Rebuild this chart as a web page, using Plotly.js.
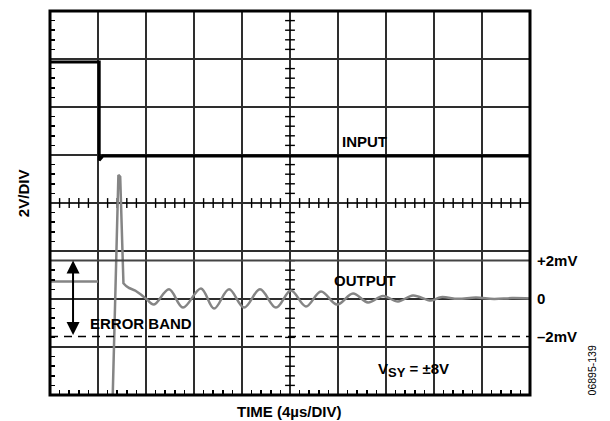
<!DOCTYPE html>
<html>
<head>
<meta charset="utf-8">
<script src="https://cdn.plot.ly/plotly-3.0.1.min.js"></script>
<style>html,body{margin:0;padding:0;background:#fff;}#chart{width:610px;height:421px;}</style>
</head>
<body>
<div id="chart"></div>
<script>
// ---- data (time in µs, input in V, output in mV) ----
var inputTime  = [0, 4.1, 4.1, 4.25, 4.4, 40];
var inputVolts = [5.875, 5.875, 1.78, 1.85, 1.96, 1.96];

// null = trace off-screen / not drawn during the fast edge
var outStepTime = [0, 4.0, 4.05, 5.15, 5.3, 5.45, 5.6, 5.7, 5.85, 5.95, 6.05, 6.12, 6.35, 6.6, 7.1, 7.6, 8.17];
var outStepMV   = [0.9, 0.9, null, -7, -3, 1, 5, 6.5, 6.4, 4.5, 2, 0.8, 0.65, 0.55, 0.42, 0.2, -0.1];

var outRingTime = [8.17, 8.67, 9.92, 11.08, 12.58, 13.67, 14.92, 16.17, 17.5, 18.83, 20.08, 21.33, 22.58, 23.92, 25.25, 26.5, 27.75, 29.0, 30.25, 31.75, 32.58, 34.0, 35.5, 37.0, 38.5, 40];
var outRingMV   = [-0.1, -0.32, 0.48, -0.48, 0.53, -0.53, 0.48, -0.48, 0.48, -0.48, 0.42, -0.42, 0.37, -0.32, 0.26, -0.21, 0.13, -0.16, 0.16, -0.11, 0.07, -0.02, 0.05, -0.03, 0.02, 0];

var bandLevels = [2, -2];               // error band limits, mV
var bandTicks  = [2, 0, -2];
var bandLabels = ['+2mV', '0', '\u20132mV'];

// ---- graticule centre-line ticks ----
var cx = [], cy = [], hx = [], hy = [];
for (var i = 1; i < 40; i++) { var v = -8 + i * 0.4; if (Math.abs(v / 2 - Math.round(v / 2)) > 1e-6) { cx.push(20); cy.push(v); } }
for (var j = 1; j < 50; j++) { var u = j * 0.8; if (Math.abs(u / 4 - Math.round(u / 4)) > 1e-6) { hx.push(u); hy.push(0); } }

var FONT = 'Liberation Sans, Arial, Helvetica, sans-serif';

var traces = [
  {x: cx, y: cy, mode: 'markers', marker: {symbol: 'line-ew', size: 7, line: {color: '#000', width: 1.4}}, hoverinfo: 'skip', showlegend: false},
  {x: hx, y: hy, mode: 'markers', marker: {symbol: 'line-ns', size: 7, line: {color: '#000', width: 1.4}}, hoverinfo: 'skip', showlegend: false},
  {x: inputTime, y: inputVolts, mode: 'lines', line: {color: '#000', width: 3}, showlegend: false},
  {x: outStepTime, y: outStepMV, yaxis: 'y2', mode: 'lines', connectgaps: false, line: {color: '#858585', width: 2.5}, showlegend: false},
  {x: outRingTime, y: outRingMV, yaxis: 'y2', mode: 'lines', line: {color: '#858585', width: 2.5, shape: 'spline', smoothing: 1}, showlegend: false}
];

var shapes = [
  {type: 'line', xref: 'paper', x0: 0, x1: 1, yref: 'y2', y0: bandLevels[0], y1: bandLevels[0], line: {color: '#444', width: 2}},
  {type: 'line', xref: 'paper', x0: 0, x1: 1, yref: 'y2', y0: bandLevels[1], y1: bandLevels[1], line: {color: '#000', width: 1.5, dash: '8px,6px'}},
  {type: 'rect', xref: 'paper', yref: 'paper', x0: 0, x1: 1, y0: 0, y1: 1, line: {color: '#000', width: 3}, fillcolor: 'rgba(0,0,0,0)'}
];

var lbl = {family: FONT, size: 15, color: '#000'};
var annotations = [
  {xref: 'x', yref: 'y', x: 26.2, y: 2.58, text: '<b>INPUT</b>', showarrow: false, font: lbl, xanchor: 'center', yanchor: 'middle'},
  {xref: 'x', yref: 'y', x: 26.25, y: -3.21, text: '<b>OUTPUT</b>', showarrow: false, font: lbl, xanchor: 'center', yanchor: 'middle'},
  {xref: 'x', yref: 'y', x: 7.6, y: -5.0, text: '<b>ERROR BAND</b>', showarrow: false, font: lbl, xanchor: 'center', yanchor: 'middle'},
  {xref: 'x', yref: 'y', x: 27.15, y: -6.95, xanchor: 'left', yanchor: 'middle', text: '<b>V<sub><span style="font-size:13px">SY</span></sub> = \u00B18V</b>', showarrow: false, font: lbl},
  {xref: 'x', yref: 'y2', x: 1.92, y: bandLevels[0], axref: 'x', ayref: 'y2', ax: 1.92, ay: bandLevels[1], text: '', showarrow: true, arrowside: 'end+start', arrowhead: 2, arrowsize: 1.3, arrowwidth: 2, arrowcolor: '#000'},
  {xref: 'paper', yref: 'paper', x: 0.498, y: -0.044, xanchor: 'center', yanchor: 'middle', text: '<b>TIME (4\u00B5s/DIV)</b>', showarrow: false, font: lbl},
  {xref: 'paper', yref: 'paper', x: -0.056, y: 0.526, xanchor: 'center', yanchor: 'middle', text: '<b>2V/DIV</b>', textangle: -90, showarrow: false, font: lbl},
  {xref: 'paper', yref: 'paper', x: 1.13, y: 0.065, xanchor: 'center', yanchor: 'middle', text: '06895-139', textangle: -90, showarrow: false, font: {family: FONT, size: 10.5, color: '#000'}}
];

var axCommon = {showgrid: true, gridcolor: '#2e2e2e', gridwidth: 1.7, layer: 'above traces',
  showline: false, mirror: 'allticks', ticks: '', showticklabels: false, zeroline: false};

var layout = {
  width: 610, height: 421,
  margin: {l: 50, r: 80, t: 11, b: 26, pad: 0},
  paper_bgcolor: '#fff', plot_bgcolor: '#fff',
  showlegend: false,
  xaxis: Object.assign({}, axCommon, {range: [0, 40], tick0: 0, dtick: 4,
          minor: {tick0: 0, dtick: 0.8, ticks: 'inside', ticklen: 5, tickwidth: 1.5, tickcolor: '#000', showgrid: false}}),
  yaxis: Object.assign({}, axCommon, {range: [-8, 8], tick0: 0, dtick: 2,
          minor: {tick0: 0, dtick: 0.4, ticks: 'inside', ticklen: 5, tickwidth: 1.5, tickcolor: '#000', showgrid: false}}),
  yaxis2: {overlaying: 'y', side: 'right', range: [-5.08, 15.13], tickmode: 'array', tickvals: bandTicks, ticktext: bandLabels,
           showgrid: false, zeroline: false, showline: false, ticks: '', ticklabelstandoff: 6,
           tickfont: {family: FONT, size: 15, color: '#000', weight: 'bold'}},
  shapes: shapes,
  annotations: annotations
};

Plotly.newPlot('chart', traces, layout, {displayModeBar: false, staticPlot: true});
</script>
</body>
</html>
